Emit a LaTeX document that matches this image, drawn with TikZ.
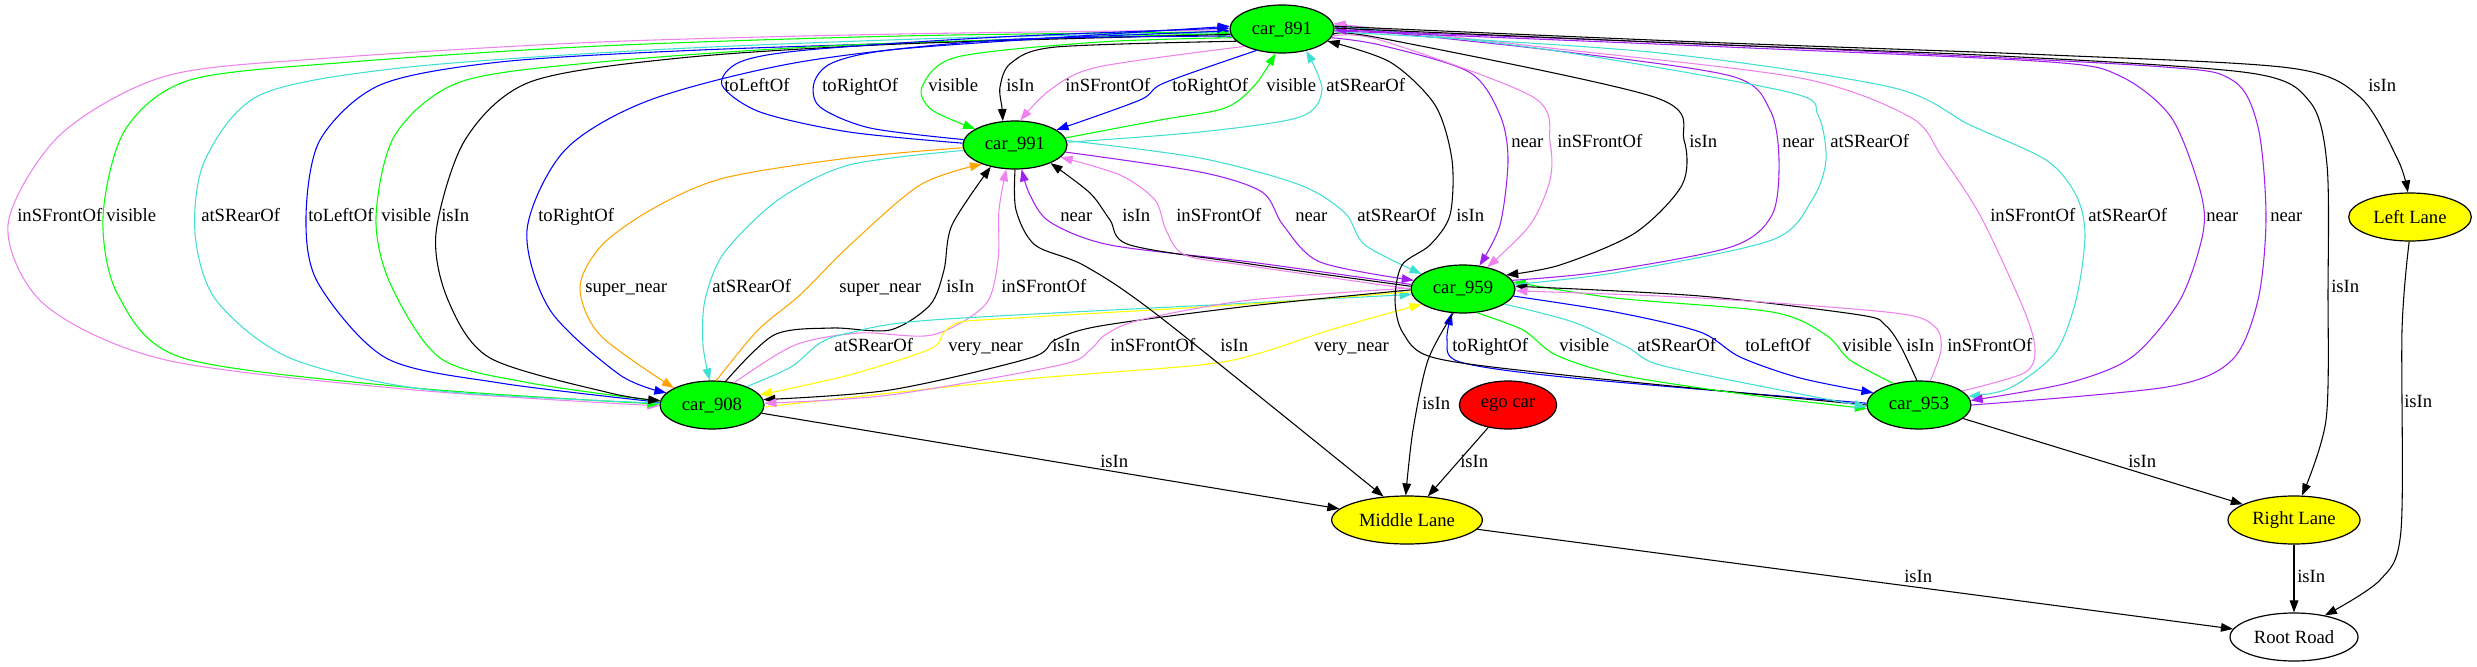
\documentclass[tikz,border=0pt]{standalone}
\usepackage{fontspec}
\setmainfont{Liberation Serif}
\usetikzlibrary{arrows.meta,shapes.geometric}
\definecolor{Grn}{HTML}{00FF00}
\definecolor{Rd}{HTML}{FF0000}
\definecolor{Yel}{HTML}{FFFF00}
\definecolor{Vio}{HTML}{EE82EE}
\definecolor{Pur}{HTML}{A020F0}
\definecolor{Trq}{HTML}{40E0D0}
\definecolor{Blu}{HTML}{0000FF}
\definecolor{Org}{HTML}{FFA500}

\begin{document}
\begin{tikzpicture}[
  x=0.75pt, y=-0.75pt,
  font=\fontsize{14}{16}\selectfont,
  car/.style={ellipse, draw=black, line width=0.9pt, fill=Grn, minimum width=78pt, minimum height=36pt, inner sep=0pt},
  lane/.style={ellipse, draw=black, line width=0.9pt, fill=Yel, minimum height=36pt, inner sep=0pt},
  rel/.style={-{Triangle[length=9pt,width=6.5pt]}, line width=0.8pt},
  lbl/.style={anchor=west, inner sep=0pt, text height=9.5pt, text depth=3pt},
  spl/.style={smooth, tension=0.5},
]
\useasboundingbox (0,0) rectangle (2477,667);

\node[car] (c891) at (1282,29) {car\_891};
\node[car] (c991) at (1015,145) {car\_991};
\node[car] (c959) at (1463,289) {car\_959};
\node[car] (c908) at (712,405) {car\_908};
\node[car] (c953) at (1919,405) {car\_953};
\node[car, fill=Rd, minimum width=73pt] (ego) at (1508,405) {ego car};
\node[lane, minimum width=92pt] (lleft) at (2410,217) {Left Lane};
\node[lane, minimum width=113pt] (lmid) at (1407,520) {Middle Lane};
\node[lane, minimum width=99pt] (lright) at (2294,520) {Right Lane};
\node[lane, fill=white, minimum width=96pt] (road) at (2294,637) {Root Road};

% car_891 <-> car_908, outer loops
\draw[rel, Vio] plot[spl] coordinates {(c891.181) (900,34) (600,42) (330,58) (166,76) (60,135) (8,225) (45,305) (166,360) (415,390) (c908.181)};
\draw[rel, Grn] plot[spl] coordinates {(c891.183) (900,36) (600,46) (350,62) (190,80) (125,130) (103,217) (118,295) (183,358) (415,388) (c908.179)};
\draw[rel, Trq] plot[spl] coordinates {(c908.178) (430,390) (290,358) (216,300) (195,233) (205,160) (260,95) (400,68) (650,50) (950,38) (c891.184)};
\draw[rel, Blu] plot[spl] coordinates {(c908.177) (500,383) (386,358) (318,283) (306,217) (320,140) (380,85) (500,62) (700,50) (1000,40) (c891.182)};
\draw[rel, Grn] plot[spl] coordinates {(c908.176) (530,383) (440,358) (390,283) (376,217) (395,135) (460,82) (600,62) (850,45) (c891.185)};
\draw[rel, black] plot[spl] coordinates {(c891.186) (900,44) (680,58) (530,82) (465,140) (436,233) (448,300) (490,358) (610,393) (c908.175)};
\draw[rel, Blu] plot[spl] coordinates {(c891.188) (1000,40) (800,62) (650,100) (565,150) (527,230) (550,310) (620,375) (c908.165)};
\node[lbl] (t1) at (17,217) {inSFrontOf};
\node[lbl] (t2) at (106,217) {visible};
\node[lbl] (t3) at (201,217) {atSRearOf};
\node[lbl] (t4) at (308,217) {toLeftOf};
\node[lbl] (t5) at (381,217) {visible};
\node[lbl] (t6) at (441,217) {isIn};
\node[lbl] (t7) at (538,217) {toRightOf};

% car_891 <-> car_991
\draw[rel, Blu] plot[spl] coordinates {(c991.178) (849,132) (760,112) (722,85) (740,62) (807,50) (1000,37) (c891.179)};
\draw[rel, Blu] plot[spl] coordinates {(c991.174) (870,128) (820,107) (814,83) (832,63) (890,50) (1050,38) (c891.177)};
\draw[rel, Grn] plot[spl] coordinates {(c891.190) (1100,42) (957,57) (922,87) (932,110) (c991.158)};
\draw[rel, black] plot[spl] coordinates {(c891.195) (1056,47) (1011,63) (1000,87) (1002,108) (c991.117)};
\draw[rel, Vio] plot[spl] coordinates {(c891.205) (1098,67) (1050,90) (c991.78)};
\draw[rel, Blu] plot[spl] coordinates {(c891.220) (1164,83) (1140,100) (c991.20)};
\draw[rel, Grn] plot[spl] coordinates {(c991.8) (1160,120) (1225,108) (1255,85) (c891.255)};
\draw[rel, Trq] plot[spl] coordinates {(c991.3) (1200,132) (1300,117) (1322,90) (c891.318)};
\node[lbl] (t8) at (724,87) {toLeftOf};
\node[lbl] (t9) at (822,87) {toRightOf};
\node[lbl] (t10) at (928,87) {visible};
\node[lbl] (t11) at (1006,87) {isIn};
\node[lbl] (t12) at (1065,87) {inSFrontOf};
\node[lbl] (t13) at (1172,87) {toRightOf};
\node[lbl] (t14) at (1266,87) {visible};
\node[lbl] (t15) at (1326,87) {atSRearOf};

% car_991 <-> car_959
\draw[rel, Pur] plot[spl] coordinates {(c959.175) (1250,262) (1110,245) (1050,222) (1030,195) (c991.285)};
\draw[rel, black] plot[spl] coordinates {(c959.177) (1250,264) (1130,245) (1110,220) (1090,193) (c991.333)};
\draw[rel, Vio] plot[spl] coordinates {(c959.180) (1250,266) (1185,255) (1166,230) (1155,200) (1120,175) (c991.345)};
\draw[rel, Pur] plot[spl] coordinates {(c991.352) (1200,172) (1262,192) (1283,225) (1320,262) (c959.170)};
\draw[rel, Trq] plot[spl] coordinates {(c991.5) (1200,158) (1300,185) (1345,213) (1365,245) (c959.160)};
\node[lbl] (t16) at (1060,217) {near};
\node[lbl] (t17) at (1122,217) {isIn};
\node[lbl] (t18) at (1176,217) {inSFrontOf};
\node[lbl] (t19) at (1295,217) {near};
\node[lbl] (t20) at (1357,217) {atSRearOf};

% car_991 <-> car_908
\draw[rel, Org] plot[spl] coordinates {(c991.183) (849,158) (724,178) (654,208) (602,245) (580,287) (600,335) (c908.156)};
\draw[rel, Trq] plot[spl] coordinates {(c991.186) (849,165) (778,200) (724,253) (705,300) (703,345) (c908.95)};
\draw[rel, Org] plot[spl] coordinates {(c908.80) (758,330) (800,295) (850,245) (920,185) (c991.210)};
\draw[rel, black] plot[spl] coordinates {(c908.60) (774,335) (832,328) (890,330) (930,305) (944,270) (952,225) (c991.222)};
\draw[rel, Vio] plot[spl] coordinates {(c908.45) (795,345) (860,333) (932,335) (985,305) (998,260) (999,210) (c991.250)};
\node[lbl] (t21) at (585,288) {super\_near};
\node[lbl] (t22) at (712,288) {atSRearOf};
\node[lbl] (t23) at (839,288) {super\_near};
\node[lbl] (t24) at (946,288) {isIn};
\node[lbl] (t25) at (1001,288) {inSFrontOf};

% car_908 <-> car_959
\draw[rel, Trq] plot[spl] coordinates {(c908.28) (791,367) (820,343) (849,333) (932,320) (1250,303) (c959.186)};
\draw[rel, Yel] plot[spl] coordinates {(c959.183) (1250,304) (1015,318) (961,322) (944,332) (930,349) (849,375) (c908.12)};
\draw[rel, Yel] plot[spl] coordinates {(c908.358) (1015,380) (1200,365) (1260,353) (1330,330) (c959.200)};
\draw[rel, black] plot[spl] coordinates {(c959.181) (1250,306) (1100,326) (1055,340) (1030,358) (890,390) (c908.6)};
\draw[rel, Vio] plot[spl] coordinates {(c959.179) (1250,300) (1140,320) (1105,335) (1090,350) (1060,365) (890,395) (c908.2)};
\node[lbl] (t26) at (834,347) {atSRearOf};
\node[lbl] (t27) at (948,347) {very\_near};
\node[lbl] (t28) at (1052,347) {isIn};
\node[lbl] (t29) at (1110,347) {inSFrontOf};
\node[lbl] (t30) at (1314,347) {very\_near};

% car_959 <-> car_953
\draw[rel, Blu] plot[spl] coordinates {(c953.178) (1573,378) (1460,362) (1447,340) (c959.245)};
\draw[rel, black] plot[spl] coordinates {(c953.180) (1573,376) (1435,358) (1403,333) (1395,300) (1402,265) (1430,245) (1450,215) (1452,160) (1435,105) (1390,62) (c891.345)};
\draw[rel, Grn] plot[spl] coordinates {(c959.300) (1523,330) (1556,355) (1620,375) (1750,395) (c953.184)};
\draw[rel, Trq] plot[spl] coordinates {(c959.340) (1573,322) (1627,347) (1660,365) (1780,390) (c953.182)};
\draw[rel, Blu] plot[spl] coordinates {(c959.352) (1615,312) (1700,332) (1740,357) (1800,378) (c953.165)};
\draw[rel, Grn] plot[spl] coordinates {(c953.140) (1850,360) (1826,335) (1772,312) (1615,298) (c959.8)};
\draw[rel, black] plot[spl] coordinates {(c953.95) (1900,345) (1885,325) (1860,315) (1700,296) (c959.3)};
\draw[rel, Vio] plot[spl] coordinates {(c953.65) (1941,350) (1935,327) (1895,313) (1700,298) (c959.358)};
\node[lbl] (t31) at (1452,347) {toRightOf};
\node[lbl] (t32) at (1456,217) {isIn};
\node[lbl] (t33) at (1559,347) {visible};
\node[lbl] (t34) at (1637,347) {atSRearOf};
\node[lbl] (t35) at (1745,347) {toLeftOf};
\node[lbl] (t36) at (1842,347) {visible};
\node[lbl] (t37) at (1906,347) {isIn};
\node[lbl] (t38) at (1947,347) {inSFrontOf};

% car_891 <-> car_959, car_953
\draw[rel, Pur] plot[spl] coordinates {(c891.350) (1380,45) (1469,72) (1500,115) (1508,160) (1500,225) (c959.55)};
\draw[rel, Vio] plot[spl] coordinates {(c891.352) (1380,40) (1533,97) (1550,143) (1550,180) (1530,225) (c959.42)};
\draw[rel, black] plot[spl] coordinates {(c891.354) (1380,38) (1654,97) (1684,140) (1682,185) (1635,233) (1560,265) (c959.18)};
\draw[rel, Pur] plot[spl] coordinates {(c959.10) (1600,272) (1731,247) (1772,215) (1779,160) (1770,110) (1731,76) (1550,50) (c891.2)};
\draw[rel, Trq] plot[spl] coordinates {(c959.5) (1620,272) (1772,240) (1812,200) (1826,160) (1818,115) (1788,92) (1550,50) (c891.4)};
\draw[rel, Vio] plot[spl] coordinates {(c953.18) (2024,373) (2035,350) (2024,310) (1981,217) (1942,157) (1910,117) (1800,78) (1550,48) (c891.6)};
\draw[rel, Trq] plot[spl] coordinates {(c891.357) (1650,52) (1890,87) (1970,125) (2046,160) (2076,195) (2085,235) (2076,300) (2055,353) (2010,388) (c953.10)};
\draw[rel, Pur] plot[spl] coordinates {(c891.358) (1750,48) (2050,62) (2120,76) (2171,117) (2200,190) (2203,233) (2180,300) (2132,357) (2068,383) (c953.5)};
\draw[rel, Pur] plot[spl] coordinates {(c953.0) (2167,387) (2232,360) (2258,300) (2266,217) (2258,127) (2232,80) (2150,66) (1750,46) (c891.359)};
\node[lbl] (t39) at (1511,143) {near};
\node[lbl] (t40) at (1557,143) {inSFrontOf};
\node[lbl] (t41) at (1689,143) {isIn};
\node[lbl] (t42) at (1782,143) {near};
\node[lbl] (t43) at (1830,143) {atSRearOf};
\node[lbl] (t44) at (1990,217) {inSFrontOf};
\node[lbl] (t45) at (2088,217) {atSRearOf};
\node[lbl] (t46) at (2206,217) {near};
\node[lbl] (t47) at (2270,217) {near};

% lanes and road
\draw[rel, black] plot[spl] coordinates {(c891.3) (1700,42) (2050,55) (2290,68) (2360,97) (2398,160) (lleft.95)};
\draw[rel, black] plot[spl] coordinates {(c891.1) (1700,44) (2000,56) (2250,73) (2310,102) (2327,165) (2328,290) (2326,420) (lright.72)};
\draw[rel, black] plot[spl] coordinates {(lleft.268) (2402,330) (2401,530) (2380,580) (road.35)};
\draw[rel, black] (c908) -- (lmid);
\draw[rel, black] plot[spl] coordinates {(c991.270) (1016,210) (1035,245) (1085,266) (1160,317) (lmid.135)};
\draw[rel, black] plot[spl] coordinates {(c959.248) (1428,360) (1413,430) (lmid.93)};
\draw[rel, black] (ego) -- (lmid);
\draw[rel, black] (c953) -- (lright);
\draw[rel, black] (lmid) -- (road);
\draw[rel, black] (lright) -- (road);
\node[lbl] (t48) at (2368,87) {isIn};
\node[lbl] (t49) at (2331,288) {isIn};
\node[lbl] (t50) at (2404,403) {isIn};
\node[lbl] (t51) at (1100,463) {isIn};
\node[lbl] (t52) at (1220,347) {isIn};
\node[lbl] (t53) at (1422,405) {isIn};
\node[lbl] (t54) at (1460,463) {isIn};
\node[lbl] (t55) at (2128,463) {isIn};
\node[lbl] (t56) at (1904,578) {isIn};
\node[lbl] (t57) at (2297,578) {isIn};
\end{tikzpicture}
\end{document}
